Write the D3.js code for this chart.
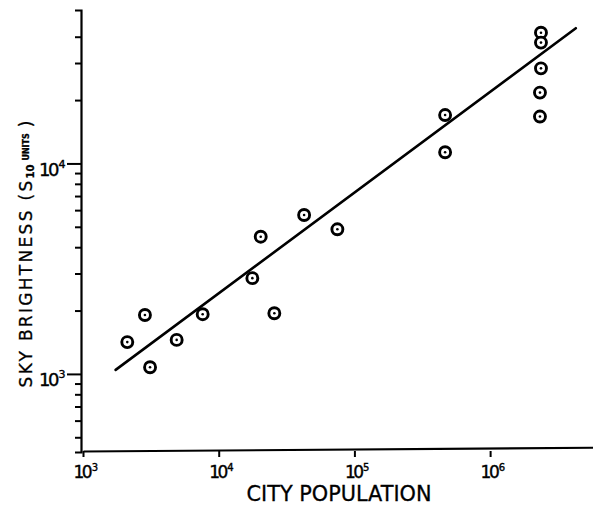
<!DOCTYPE html>
<html>
<head>
<meta charset="utf-8">
<script src="https://cdn.jsdelivr.net/npm/d3@7"></script>
<style>
  html, body { margin: 0; padding: 0; background: #fff; }
  svg { display: block; }
  text { font-family: "DejaVu Sans", sans-serif; fill: #000; }
  .lbl { stroke: #000; stroke-width: 0.4px; }
  .ttl { stroke: #000; stroke-width: 0.3px; }
</style>
</head>
<body>
<svg id="chart" width="593" height="509"></svg>
<script>
// City population vs. sky brightness (S10 units), log-log
const population = [2120, 2860, 3120, 4900, 7620, 17700, 20400, 25700, 42600, 74900,
                    466000, 466000, 2370000, 2370000, 2370000, 2330000, 2330000];
const brightness = [1416, 1905, 1076, 1451, 1922, 2851, 4487, 1942, 5690, 4864,
                    16980, 11300, 41800, 37500, 28300, 21700, 16700];

// Fitted power-law line, given by its two end points
const fitPopulation = [1740, 4280000];
const fitBrightness = [1045, 43900];

// Axis ticks
const xMajorTicks = [1e3, 1e4, 1e5, 1e6];
const xExponents = ["3", "4", "5", "6"];
const yMajorTicks = [1e3, 1e4];
const yExponents = ["3", "4"];
const yMinorTicks = [500, 600, 700, 800, 900,
                     2000, 3000, 4000, 5000, 6000, 7000, 8000, 9000,
                     20000, 30000, 40000];

const xDomain = [1000, 5.73e6];
const yDomain = [425.6, 53580];

const svg = d3.select("#chart");

const x = d3.scaleLog().domain(xDomain).range([83, 593]);
const y = d3.scaleLog().domain(yDomain).range([452, 10]);

// "10" with a raised exponent, as one text element
function powerLabel(sel, exp, size) {
  const t = sel.append("text")
    .attr("class", "lbl")
    .attr("text-anchor", "start")
    .style("font-size", size + "px");
  t.append("tspan").text("10").attr("letter-spacing", -2.5);
  t.append("tspan").text(exp)
    .style("font-size", Math.round(size * 0.6) + "px")
    .attr("dx", 1.5)
    .attr("dy", -Math.round(size * 0.42));
  return t;
}

// ---- Y axis: minor ticks, then major ticks ----
const yMinor = svg.append("g")
  .attr("transform", "translate(81,0)")
  .call(d3.axisLeft(y).tickValues(yMinorTicks).tickSize(6).tickSizeOuter(6).tickFormat(""));
yMinor.select(".domain").attr("stroke", "#000").attr("stroke-width", 2.2);
yMinor.selectAll(".tick line").attr("stroke", "#000").attr("stroke-width", 2);

const yMajor = svg.append("g")
  .attr("transform", "translate(81,0)")
  .call(d3.axisLeft(y).tickValues(yMajorTicks).tickSize(14).tickSizeOuter(0).tickFormat(""));
yMajor.select(".domain").remove();
yMajor.selectAll(".tick line").attr("stroke", "#000").attr("stroke-width", 2);

yMajor.selectAll(".tick").each(function(d, i) {
  powerLabel(d3.select(this), yExponents[i], 18)
    .attr("x", -42).attr("y", 12);
});

// ---- X axis ----
const xAxis = svg.append("g")
  .attr("transform", "translate(0,451)")
  .call(d3.axisBottom(x).tickValues(xMajorTicks).tickSize(6).tickSizeOuter(0).tickFormat(""));
xAxis.select(".domain").attr("stroke", "#000").attr("stroke-width", 2.2)
  .attr("transform", "rotate(-0.42,83,0)");
xAxis.selectAll(".tick line").attr("stroke", "#000").attr("stroke-width", 2);

xAxis.selectAll(".tick").each(function(d, i) {
  powerLabel(d3.select(this), xExponents[i], 17)
    .attr("x", -10).attr("y", 27);
});

// ---- Axis titles ----
svg.append("text")
  .attr("class", "ttl")
  .attr("x", 339).attr("y", 501)
  .attr("text-anchor", "middle")
  .attr("textLength", 185)
  .attr("lengthAdjust", "spacingAndGlyphs")
  .style("font-size", "21px")
  .text("CITY POPULATION");

const yTitle = svg.append("text")
  .attr("class", "ttl")
  .attr("transform", "translate(32,254) rotate(-90)")
  .attr("text-anchor", "middle")
  .style("font-size", "17px");
yTitle.append("tspan").text("SKY BRIGHTNESS (S").attr("letter-spacing", 2.3);
yTitle.append("tspan").text("10").style("font-size", "10px").attr("dy", 2).attr("font-weight", "bold");
yTitle.append("tspan").text("UNITS").style("font-size", "8px").attr("dx", 4).attr("dy", -5).attr("font-weight", "bold");
yTitle.append("tspan").text(")").attr("dx", 6).attr("dy", 3);

// ---- Fitted line ----
const fit = fitPopulation.map((p, i) => [p, fitBrightness[i]]);
svg.append("path")
  .datum(fit)
  .attr("fill", "none")
  .attr("stroke", "#000")
  .attr("stroke-width", 2.6)
  .attr("stroke-linecap", "round")
  .attr("d", d3.line().x(d => x(d[0])).y(d => y(d[1])));

// ---- Data points: ringed dots ----
const pts = population.map((p, i) => ({ p, s: brightness[i] }));
const g = svg.append("g");
g.selectAll("circle.ring").data(pts).join("circle")
  .attr("class", "ring")
  .attr("cx", d => x(d.p)).attr("cy", d => y(d.s))
  .attr("r", 5.5)
  .attr("fill", "#fff")
  .attr("stroke", "#000")
  .attr("stroke-width", 2.9);
g.selectAll("circle.dot").data(pts).join("circle")
  .attr("class", "dot")
  .attr("cx", d => x(d.p)).attr("cy", d => y(d.s))
  .attr("r", 1.3)
  .attr("fill", "#000");
</script>
</body>
</html>
